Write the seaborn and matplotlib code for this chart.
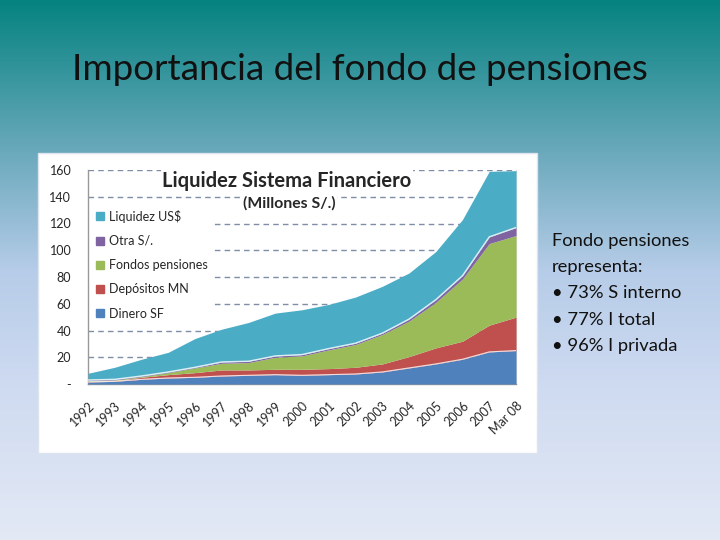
import numpy as np
import pandas as pd
import matplotlib
matplotlib.use("Agg")
import matplotlib.pyplot as plt
import seaborn as sns
from matplotlib.colors import LinearSegmentedColormap
from matplotlib.patches import Rectangle
from matplotlib.lines import Line2D

# data (millions S/.)
years = ["1992", "1993", "1994", "1995", "1996", "1997", "1998", "1999", "2000",
         "2001", "2002", "2003", "2004", "2005", "2006", "2007", "Mar 08"]
dinero_sf = [1.5, 2, 3.5, 4.5, 5, 6, 6.5, 7, 6.5, 7, 7.5, 9, 12, 15, 18.5, 24, 25]
depositos_mn = [0.5, 0.5, 1.5, 2.5, 3.5, 4.5, 4, 4, 4.5, 4.5, 5, 6, 8.5, 12, 13.5, 20, 25]
fondos_pensiones = [0.5, 0.5, 0.5, 1.5, 3.5, 5, 5.5, 9, 10, 14, 17, 22, 26.5, 34, 46.5, 61, 61]
otra_soles = [0.5, 0.5, 0.5, 0.5, 0.5, 1, 1, 1, 1, 1, 1, 1, 1.5, 2, 2.5, 5, 6]
liquidez_usd = [5, 9, 12.5, 14.7, 21.5, 24.5, 29, 32, 33.5, 33, 34.5, 35, 34.5, 36, 42, 49, 42.5]

series = ["Dinero SF", "Depósitos MN", "Fondos pensiones", "Otra S/.", "Liquidez US$"]
df = pd.DataFrame({
    "Dinero SF": dinero_sf,
    "Depósitos MN": depositos_mn,
    "Fondos pensiones": fondos_pensiones,
    "Otra S/.": otra_soles,
    "Liquidez US$": liquidez_usd,
}, index=years)

palette = sns.color_palette(["#4f81bd", "#c0504d", "#9bbb59", "#8064a2", "#4bacc6"])

sns.set_style("white")
plt.rcParams["font.family"] = ["Lato", "DejaVu Sans"]

W, H = 720, 540
fig = plt.figure(figsize=(7.2, 5.4), dpi=100)

# slide background gradient
bg = fig.add_axes([0, 0, 1, 1])
cmap = LinearSegmentedColormap.from_list("slide", [
    (0.0, "#058380"), (0.28, "#6aa9bc"), (0.5, "#b6cce8"),
    (0.72, "#cfdbf1"), (1.0, "#e3e9f5")])
grad = np.linspace(0, 1, 256).reshape(-1, 1)
bg.imshow(grad, aspect="auto", cmap=cmap, extent=[0, 1, 0, 1], origin="upper")
bg.set_xlim(0, 1)
bg.set_ylim(0, 1)
bg.axis("off")

fig.text(360 / W, 1 - 70 / H, "Importancia del fondo de pensiones",
         ha="center", va="center", fontsize=26.5, color="#111111")

# white chart box
fig.patches.append(Rectangle((38 / W, 1 - 453 / H), (537 - 38) / W, (453 - 153) / H,
                             transform=fig.transFigure, facecolor="white",
                             edgecolor="#dde4ee", lw=1, zorder=1))

ax = fig.add_axes([88 / W, 1 - 384 / H, (516 - 88) / W, (384 - 170) / H], zorder=2)
ax.set_facecolor("none")
x = np.arange(len(years))
ax.stackplot(x, *[df[s].values for s in series], colors=palette, lw=0, zorder=3)
cum = df[series].cumsum(axis=1)
ax.plot(x, cum["Dinero SF"], color="white", lw=0.8, alpha=0.8, zorder=4)
ax.plot(x, cum["Otra S/."], color="white", lw=1.0, alpha=0.8, zorder=4)

ax.set_xlim(0, len(years) - 1)
ax.set_ylim(0, 160)
yt = np.arange(0, 161, 20)
ax.set_yticks(yt)
ax.set_yticklabels(["-"] + [str(v) for v in yt[1:]], fontsize=9)
for v in yt[1:]:
    ax.axhline(v, color="#7f8ea6", lw=1, ls=(0, (4, 3)), zorder=1)
ax.set_xticks(x)
ax.set_xticklabels(years, rotation=45, ha="right", va="top", fontsize=9,
                   rotation_mode="anchor")
ax.tick_params(axis="both", length=4, width=0.8, color="#999999", direction="out")
ax.tick_params(axis="x", pad=7)
ax.tick_params(axis="y", pad=8)
for side in ["left", "bottom"]:
    ax.spines[side].set_color("#999999")
    ax.spines[side].set_linewidth(1)
ax.spines["right"].set_color("#d8d8d8")
ax.spines["top"].set_visible(False)

handles = [Line2D([0], [0], marker="s", ls="", markersize=6, color=palette[i])
           for i in range(len(series))][::-1]
leg = ax.legend(handles, series[::-1], loc="upper left",
                bbox_to_anchor=(0.0, (384 - 204) / 214), frameon=True, fontsize=9,
                labelspacing=0.98, handletextpad=0.2, borderpad=0.45,
                handlelength=1.0, borderaxespad=0.0)
leg.get_frame().set_facecolor("white")
leg.get_frame().set_edgecolor("white")
leg.get_frame().set_alpha(1)
leg.set_zorder(2)

ax.text(0.465, 1 - (181 - 170) / 214, "Liquidez Sistema Financiero",
        transform=ax.transAxes, ha="center", va="center", fontsize=14.5,
        fontweight="bold", zorder=6,
        bbox=dict(facecolor="white", edgecolor="none", pad=1))
ax.text(0.47, 1 - (203 - 170) / 214, "(Millones S/.)",
        transform=ax.transAxes, ha="center", va="center", fontsize=11.3,
        fontweight="bold", zorder=6,
        bbox=dict(facecolor="white", edgecolor="none", pad=1))

lines = ["Fondo pensiones", "representa:", "• 73% S interno",
         "• 77% I total", "• 96% I privada"]
for i, t in enumerate(lines):
    fig.text(552 / W, 1 - (241 + 26.2 * i) / H, t, ha="left", va="center",
             fontsize=13.2, color="#111111")

fig.savefig("out.png", dpi=100)
